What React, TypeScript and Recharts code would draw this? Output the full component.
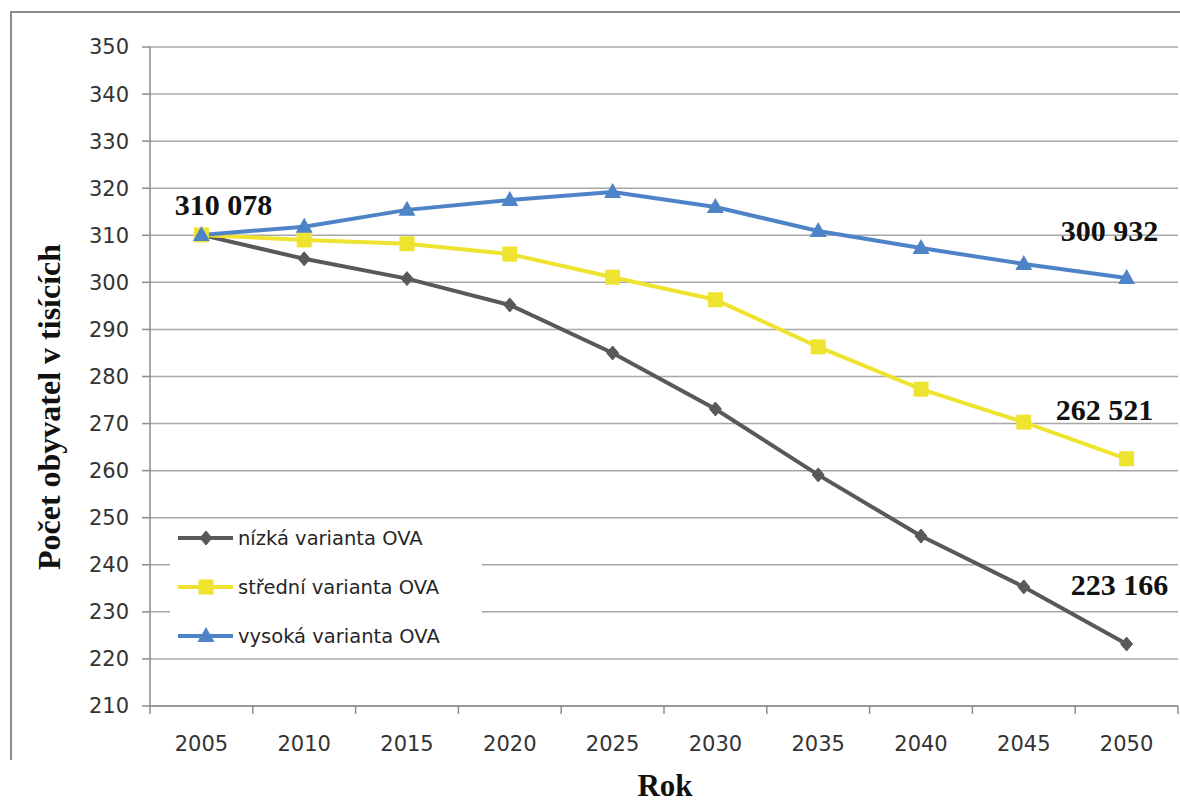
import React from 'react';
import { LineChart, Line, XAxis, YAxis, CartesianGrid, Label } from 'recharts';

// ---- data (population in thousands) ----
const years = [2005, 2010, 2015, 2020, 2025, 2030, 2035, 2040, 2045, 2050];
const lowValues = [310.078, 305.0, 300.8, 295.2, 285.0, 273.1, 259.1, 246.1, 235.3, 223.166];
const midValues = [310.078, 309.0, 308.2, 306.0, 301.1, 296.3, 286.3, 277.3, 270.3, 262.521];
const highValues = [310.078, 311.8, 315.4, 317.5, 319.2, 316.0, 310.9, 307.3, 303.9, 300.932];
const yTicks = [210, 220, 230, 240, 250, 260, 270, 280, 290, 300, 310, 320, 330, 340, 350];
const seriesNames = ['nízká varianta OVA', 'střední varianta OVA', 'vysoká varianta OVA'];
const yTitle = 'Počet obyvatel v tisících';
const xTitle = 'Rok';

const data = years.map((year, i) => ({
  idx: i,
  year,
  low: lowValues[i],
  mid: midValues[i],
  high: highValues[i],
}));

// tick positions: category centres (labels) and boundaries (tick marks)
const xTicks: number[] = [];
years.forEach((_, i) => {
  xTicks.push(i - 0.5);
  xTicks.push(i);
});
xTicks.push(years.length - 0.5);

// ---- styles ----
const W = 1180;
const H = 805;
const GRAY = '#595959';
const YELLOW = '#eee42f';
const BLUE = '#4e83c7';
const AXIS = '#8c8c8c';
const GRID = '#a8a8a8';
const TICK_FONT = '"DejaVu Sans", Verdana, sans-serif';
const SERIF = '"Liberation Serif", "Times New Roman", serif';
const X_TICK_SIZE = 8;
const X_TICK_MARGIN = 22;

const fmt = (v: number) => {
  const n = Math.round(v * 1000);
  return String(n).replace(/\B(?=(\d{3})+(?!\d))/g, ' ');
};

const XTick = (props: any) => {
  const { x, y, payload } = props;
  const v = payload.value as number;
  if (!Number.isInteger(v)) {
    return (
      <line
        x1={x}
        x2={x}
        y1={y - X_TICK_MARGIN - X_TICK_SIZE}
        y2={y - X_TICK_MARGIN}
        stroke={AXIS}
        strokeWidth={1.5}
      />
    );
  }
  return (
    <text x={x} y={y} dy="0.72em" textAnchor="middle" fontFamily={TICK_FONT} fontSize={21} fill="#333">
      {years[v]}
    </text>
  );
};

const Diamond = ({ cx, cy, color }: any) => (
  <polygon
    points={`${cx},${cy - 7} ${cx + 6},${cy} ${cx},${cy + 7} ${cx - 6},${cy}`}
    fill={color}
    stroke={color}
    strokeWidth={1}
  />
);
const Square = ({ cx, cy, color }: any) => (
  <rect x={cx - 7.5} y={cy - 7.5} width={15} height={15} fill={color} />
);
const Triangle = ({ cx, cy, color }: any) => (
  <polygon points={`${cx},${cy - 9} ${cx + 8.5},${cy + 6} ${cx - 8.5},${cy + 6}`} fill={color} />
);

const makeDot = (Shape: any, color: string) => (p: any) => {
  if (p.cx == null || p.cy == null) return <g key={p.key} />;
  return <Shape key={p.key} cx={p.cx} cy={p.cy} color={color} />;
};

const makeLabel = (indexToShow: number, dx: number, dy: number) => (p: any) => {
  if (p.index !== indexToShow) return null;
  return (
    <text
      key={`lbl-${p.index}`}
      x={p.x + dx}
      y={p.y + dy}
      textAnchor="middle"
      fontFamily={SERIF}
      fontWeight="bold"
      fontSize={30}
      fill="#111"
    >
      {fmt(p.value)}
    </text>
  );
};

const legendShapes = [
  { Shape: Diamond, color: GRAY },
  { Shape: Square, color: YELLOW },
  { Shape: Triangle, color: BLUE },
];

const ChartLegend = () => (
  <div
    style={{
      position: 'absolute',
      left: 170,
      top: 521,
      background: '#fff',
      width: 312,
      height: 134,
    }}
  >
    {seriesNames.map((name, i) => {
      const { Shape, color } = legendShapes[i];
      return (
        <div
          key={name}
          style={{
            position: 'absolute',
            left: 0,
            top: 2 + 49 * i,
            display: 'flex',
            alignItems: 'center',
            height: 30,
          }}
        >
          <svg width={68} height={30} style={{ display: 'block' }}>
            <line x1={8} x2={63} y1={15} y2={15} stroke={color} strokeWidth={4} />
            <Shape cx={36} cy={15} color={color} />
          </svg>
          <span style={{ fontFamily: TICK_FONT, fontSize: 19.5, color: '#262626', whiteSpace: 'nowrap' }}>
            {name}
          </span>
        </div>
      );
    })}
  </div>
);

export default function App() {
  return (
    <div style={{ position: 'absolute', left: 0, top: 0, width: W, height: H, background: '#fff', overflow: 'hidden' }}>
      <div
        style={{
          position: 'absolute',
          left: 10,
          top: 11,
          width: W - 10,
          height: 749,
          borderLeft: `2px solid ${AXIS}`,
          borderTop: `2px solid ${AXIS}`,
          boxSizing: 'border-box',
        }}
      />
      <div style={{ position: 'absolute', left: 0, top: 0 }}>
        <LineChart width={W} height={H} data={data} margin={{ top: 47, right: 2, bottom: 39, left: 0 }}>
          <CartesianGrid vertical={false} stroke={GRID} strokeWidth={1.5} />
          <XAxis
            dataKey="idx"
            type="number"
            domain={[-0.5, years.length - 0.5]}
            ticks={xTicks}
            interval={0}
            tick={<XTick />}
            tickLine={false}
            tickSize={X_TICK_SIZE}
            tickMargin={X_TICK_MARGIN}
            axisLine={{ stroke: AXIS, strokeWidth: 1.5 }}
            height={60}
            allowDataOverflow
          >
            <Label
              content={() => (
                <text x={665} y={796} textAnchor="middle" fontFamily={SERIF} fontWeight="bold" fontSize={31} fill="#111">
                  {xTitle}
                </text>
              )}
            />
          </XAxis>
          <YAxis
            domain={[210, 350]}
            ticks={yTicks}
            interval={0}
            width={150}
            tickSize={8}
            tickMargin={13}
            tick={{ fontFamily: TICK_FONT, fontSize: 21, fill: '#333' }}
            tickLine={{ stroke: AXIS, strokeWidth: 1.5 }}
            axisLine={{ stroke: AXIS, strokeWidth: 1.5 }}
          >
            <Label
              content={() => (
                <text
                  x={0}
                  y={0}
                  transform="translate(60, 407) rotate(-90)"
                  textAnchor="middle"
                  fontFamily={SERIF}
                  fontWeight="bold"
                  fontSize={32}
                  fill="#111"
                >
                  {yTitle}
                </text>
              )}
            />
          </YAxis>
          <Line
            type="linear"
            dataKey="low"
            name={seriesNames[0]}
            stroke={GRAY}
            strokeWidth={4}
            dot={makeDot(Diamond, GRAY)}
            activeDot={false}
            label={makeLabel(years.length - 1, -7, -49)}
            isAnimationActive={false}
          />
          <Line
            type="linear"
            dataKey="mid"
            name={seriesNames[1]}
            stroke={YELLOW}
            strokeWidth={4}
            dot={makeDot(Square, YELLOW)}
            activeDot={false}
            label={(p: any) =>
              p.index === 0 ? makeLabel(0, 22, -20)(p) : makeLabel(years.length - 1, -22, -39)(p)
            }
            isAnimationActive={false}
          />
          <Line
            type="linear"
            dataKey="high"
            name={seriesNames[2]}
            stroke={BLUE}
            strokeWidth={4}
            dot={makeDot(Triangle, BLUE)}
            activeDot={false}
            label={makeLabel(years.length - 1, -17, -37)}
            isAnimationActive={false}
          />
        </LineChart>
      </div>
      <ChartLegend />
    </div>
  );
}
